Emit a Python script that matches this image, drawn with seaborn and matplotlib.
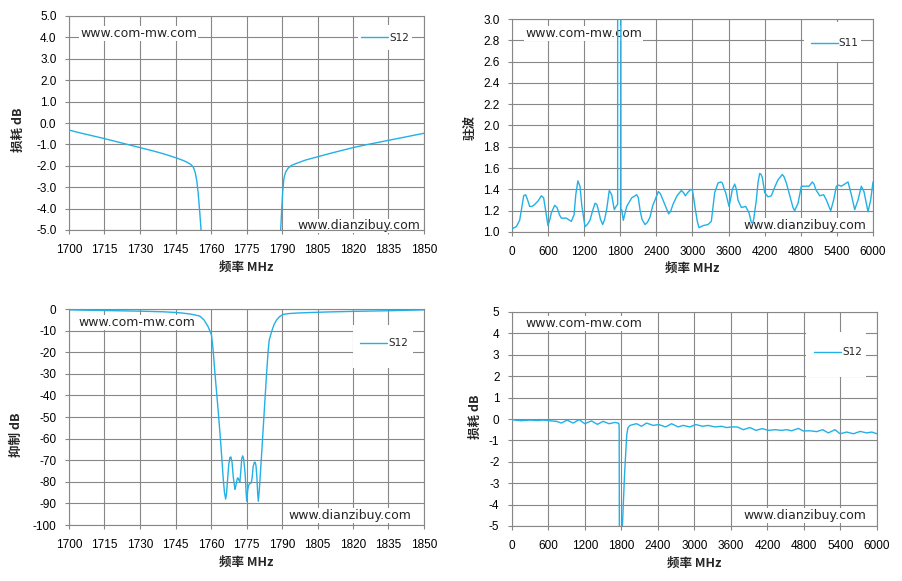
import numpy as np
import pandas as pd
import matplotlib
matplotlib.use('Agg')
import matplotlib.pyplot as plt
import seaborn as sns
from matplotlib.patches import Rectangle
from matplotlib.ticker import FormatStrFormatter

# ---- data ----
# top left: S12 pass band edges, 1700-1850 MHz
edge_freq = [1700, 1705, 1710, 1715, 1720, 1725, 1730, 1735, 1740, 1745, 1748, 1750,
             1751.5, 1752.5, 1753.3, 1754, 1754.6, 1755.2, 1756, 1757, 1760, 1765,
             1775, 1780, 1785, 1788, 1789.3, 1789.8, 1790.3, 1790.8, 1791.5, 1792.5,
             1794, 1797, 1800, 1805, 1810, 1815, 1820, 1825, 1830, 1835, 1840, 1845, 1850]
edge_loss = [-0.33, -0.47, -0.60, -0.73, -0.87, -1.01, -1.15, -1.29, -1.44, -1.62, -1.74, -1.84,
             -1.94, -2.06, -2.3, -2.7, -3.3, -4.1, -5.3, -7.0, -12, -80,
             -89, -89, -12, -6.5, -5.3, -4.2, -3.2, -2.6, -2.3, -2.12,
             -1.98, -1.85, -1.73, -1.58, -1.43, -1.29, -1.15, -1.03, -0.92, -0.81, -0.70, -0.59, -0.48]

# top right: S11 VSWR, 0-6000 MHz
vswr_freq = [0, 72, 127, 160, 194, 227, 260, 294, 330, 360, 432, 488, 526, 560, 598, 630,
             654, 709, 748, 790, 820, 903, 960, 986, 1031, 1060, 1095, 1130, 1160, 1213,
             1250, 1296, 1340, 1380, 1410, 1434, 1470, 1507, 1540, 1573, 1617, 1657, 1690,
             1701, 1729, 1756, 1758, 1806, 1810, 1823, 1850, 1880, 1906, 1989, 2072, 2100,
             2127, 2160, 2211, 2250, 2294, 2340, 2377, 2432, 2466, 2538, 2604, 2640, 2676,
             2743, 2815, 2850, 2881, 2920, 2970, 3000, 3048, 3080, 3109, 3140, 3175, 3258,
             3313, 3345, 3369, 3424, 3470, 3496, 3530, 3551, 3607, 3640, 3662, 3701, 3730,
             3756, 3812, 3884, 3939, 3978, 4000, 4017, 4061, 4090, 4117, 4140, 4161, 4200,
             4255, 4310, 4366, 4421, 4493, 4520, 4560, 4626, 4670, 4698, 4754, 4809, 4850,
             4892, 4937, 4992, 5020, 5048, 5114, 5180, 5225, 5297, 5346, 5391, 5430, 5474,
             5530, 5585, 5640, 5696, 5751, 5806, 5850, 5917, 5961, 6000]
vswr_val = [1.03, 1.05, 1.11, 1.22, 1.34, 1.35, 1.30, 1.24, 1.24, 1.25, 1.29, 1.34, 1.32, 1.20, 1.06, 1.12,
            1.18, 1.25, 1.23, 1.16, 1.13, 1.13, 1.11, 1.10, 1.16, 1.35, 1.48, 1.43, 1.25, 1.05,
            1.07, 1.11, 1.20, 1.27, 1.26, 1.21, 1.12, 1.07, 1.12, 1.21, 1.39, 1.35, 1.24,
            1.21, 1.24, 1.26, 40, 40, 1.20, 1.21, 1.11, 1.18, 1.24, 1.32, 1.35, 1.32,
            1.21, 1.12, 1.07, 1.09, 1.14, 1.25, 1.30, 1.38, 1.36, 1.26, 1.17, 1.20, 1.26,
            1.34, 1.39, 1.37, 1.34, 1.37, 1.40, 1.39, 1.21, 1.10, 1.04, 1.05, 1.06, 1.07,
            1.10, 1.25, 1.37, 1.46, 1.47, 1.46, 1.40, 1.37, 1.24, 1.33, 1.40, 1.45, 1.40,
            1.30, 1.23, 1.24, 1.18, 1.09, 1.08, 1.12, 1.30, 1.47, 1.55, 1.54, 1.51, 1.37,
            1.33, 1.34, 1.42, 1.49, 1.54, 1.52, 1.46, 1.32, 1.23, 1.20, 1.27, 1.43, 1.43,
            1.43, 1.43, 1.47, 1.45, 1.40, 1.34, 1.35, 1.30, 1.20, 1.30, 1.43, 1.44, 1.43,
            1.45, 1.47, 1.35, 1.21, 1.30, 1.43, 1.38, 1.19, 1.30, 1.47]

# bottom left: S12 rejection, 1700-1850 MHz
rej_freq = [1700, 1715, 1730, 1740, 1745, 1748, 1751, 1753, 1755.3, 1757, 1758.8, 1760.2,
            1760.9, 1761.6, 1762.4, 1763.1, 1763.8, 1764.5, 1765.2, 1765.7, 1766.2, 1766.6,
            1767.0, 1767.5, 1768.0, 1768.4, 1768.9, 1769.4, 1770.1, 1770.5, 1770.8, 1771.2,
            1771.5, 1771.9, 1772.2, 1772.6, 1773.0, 1773.4, 1773.8, 1774.4, 1774.8, 1775.1,
            1775.5, 1775.8, 1776.2, 1776.6, 1777.0, 1777.4, 1777.8, 1778.3, 1778.7, 1779.0,
            1779.4, 1779.7, 1780.0, 1780.4, 1780.7, 1781.4, 1782.1, 1782.8, 1783.5, 1784.1,
            1784.6, 1785.6, 1786.6, 1787.7, 1789, 1790.5, 1793, 1796, 1800, 1810, 1820,
            1835, 1850]
rej_db = [-0.4, -0.7, -1.0, -1.3, -1.6, -1.9, -2.3, -2.7, -3.3, -5.0, -8.2, -12,
          -19, -29, -39, -48, -57.6, -68, -79, -85, -88, -85,
          -79, -72, -68.7, -68.5, -71, -77.6, -83.5, -82, -80, -78.2,
          -78.4, -79.5, -80, -75, -69.2, -68.0, -69.5, -76, -84, -89,
          -84, -82, -81, -80.7, -80.5, -78, -73, -71, -71, -72.5,
          -78, -85, -89, -84, -79, -67, -54.5, -42, -29.8, -20,
          -14.4, -10.5, -7.3, -5.1, -3.5, -2.5, -2.1, -1.9, -1.7, -1.35, -1.1,
          -0.8, -0.4]

# bottom right: S12 wide band loss, 0-6000 MHz
wide_freq = [0, 70, 150, 290, 430, 510, 620, 730, 812, 905, 1004, 1103, 1196, 1306, 1404,
             1498, 1596, 1690, 1744, 1758, 1762, 1765, 1805, 1812, 1850, 1886, 1907, 1940,
             1990, 2047, 2129, 2211, 2321, 2414, 2524, 2623, 2732, 2814, 2924, 3023, 3133,
             3226, 3336, 3445, 3527, 3610, 3703, 3801, 3911, 4010, 4114, 4213, 4322, 4432,
             4515, 4597, 4707, 4789, 4899, 5008, 5107, 5200, 5310, 5392, 5502, 5612, 5722,
             5831, 5914, 6000]
wide_loss = [-0.03, -0.06, -0.08, -0.05, -0.07, -0.05, -0.08, -0.11, -0.19, -0.05, -0.19, -0.03, -0.22, -0.09, -0.25,
             -0.11, -0.22, -0.16, -0.19, -0.22, -0.5, -6, -6, -5.2, -2.6, -0.75, -0.4, -0.3,
             -0.26, -0.22, -0.34, -0.19, -0.3, -0.26, -0.37, -0.22, -0.37, -0.3, -0.37, -0.26, -0.34,
             -0.3, -0.37, -0.34, -0.4, -0.37, -0.37, -0.5, -0.4, -0.53, -0.45, -0.53, -0.5, -0.53,
             -0.5, -0.55, -0.44, -0.56, -0.55, -0.59, -0.5, -0.65, -0.5, -0.69, -0.61, -0.69, -0.58,
             -0.65, -0.61, -0.69]

narrow_ticks = list(range(1700, 1851, 15))
wide_ticks = list(range(0, 6001, 600))

# ---- style ----
sns.set_style('white')
plt.rcParams['font.family'] = ['Liberation Sans', 'DejaVu Sans']
plt.rcParams['axes.unicode_minus'] = False

LINE = '#22B0E6'
GRID = '#878787'
CJK = ['Noto Sans CJK SC', 'DejaVu Sans']

fig = plt.figure(figsize=(9.03, 5.81), dpi=100)


def px_axes(left, top, right, bottom):
    W, H = 903.0, 581.0
    return fig.add_axes([left / W, 1 - bottom / H, (right - left) / W, (bottom - top) / H])


def panel(ax, x, y, name, xticks, yticks, yfmt, ylabel,
          ylab_xy, xlab_y, legend_box, legend_xy, mark_top, mark_bot):
    sns.lineplot(x=x, y=y, ax=ax, color=LINE, lw=1.0, sort=False,
                 estimator=None, label=name, zorder=3)
    ax.set_xlim(xticks[0], xticks[-1])
    ax.set_ylim(yticks[0], yticks[-1])
    ax.set_xticks(xticks)
    ax.set_yticks(yticks)
    ax.yaxis.set_major_formatter(FormatStrFormatter(yfmt))
    ax.set_axisbelow(True)
    ax.grid(True, color=GRID, lw=0.8)
    for sp in ax.spines.values():
        sp.set_color(GRID)
        sp.set_linewidth(0.8)
    ax.tick_params(axis='both', labelsize=8.5, colors='black', direction='out')
    ax.tick_params(axis='y', length=3, width=0.8, color=GRID, pad=6, left=True)
    ax.tick_params(axis='x', length=3, width=0.8, color=GRID, pad=7, bottom=True)

    ax.set_xlabel('频率 MHz', family=CJK, fontsize=9, weight='bold', va='center')
    ax.set_ylabel(ylabel, family=CJK, fontsize=9, weight='bold', va='center')
    ax.xaxis.set_label_coords(0.5, xlab_y)
    ax.yaxis.set_label_coords(*ylab_xy)

    # white legend patch hides the grid like the Excel legend box
    x0, y0, x1, y1 = legend_box
    ax.add_patch(Rectangle((x0, y0), x1 - x0, y1 - y0, transform=ax.transAxes,
                           facecolor='white', edgecolor='none', zorder=2.5))
    ax.legend(loc='center left', bbox_to_anchor=legend_xy, frameon=False,
              borderpad=0, borderaxespad=0, handlelength=2.6, handletextpad=0.1,
              prop={'family': 'DejaVu Sans', 'size': 7.5})

    box = dict(facecolor='white', edgecolor='none', pad=0.5)
    ax.text(mark_top[0], mark_top[1], 'www.com-mw.com', transform=ax.transAxes,
            ha='left', va='center', fontsize=9, family='DejaVu Sans', bbox=box, zorder=2)
    ax.text(mark_bot[0], mark_bot[1], 'www.dianzibuy.com', transform=ax.transAxes,
            ha='right', va='center', fontsize=9, family='DejaVu Sans', bbox=box, zorder=2)


ax1 = px_axes(69, 16, 424, 230)
panel(ax1, edge_freq, edge_loss, 'S12', narrow_ticks, list(np.arange(-5, 5.01, 1.0)), '%.1f',
      '损耗 dB', (-0.144, 0.467), -0.176,
      (0.814, 0.841, 0.966, 0.958), (0.822, 0.899), (0.031, 0.919), (0.991, 0.019))

ax2 = px_axes(512, 19, 873, 232)
panel(ax2, vswr_freq, vswr_val, 'S11', wide_ticks, list(np.arange(1.0, 3.01, 0.2)), '%.1f',
      '驻波', (-0.116, 0.49), -0.17,
      (0.809, 0.798, 0.967, 0.986), (0.827, 0.886), (0.036, 0.933), (0.981, 0.03))

ax3 = px_axes(69, 309, 424, 525)
panel(ax3, rej_freq, rej_db, 'S12', narrow_ticks, list(range(-100, 1, 10)), '%d',
      '抑制 dB', (-0.147, 0.417), -0.174,
      (0.800, 0.727, 0.969, 0.926), (0.820, 0.841), (0.026, 0.937), (0.965, 0.043))

ax4 = px_axes(512, 312, 877, 526)
panel(ax4, wide_freq, wide_loss, 'S12', wide_ticks, list(range(-5, 6, 1)), '%d',
      '损耗 dB', (-0.101, 0.51), -0.174,
      (0.805, 0.698, 0.970, 0.908), (0.827, 0.812), (0.036, 0.947), (0.970, 0.048))

fig.savefig('out.png', dpi=100)
